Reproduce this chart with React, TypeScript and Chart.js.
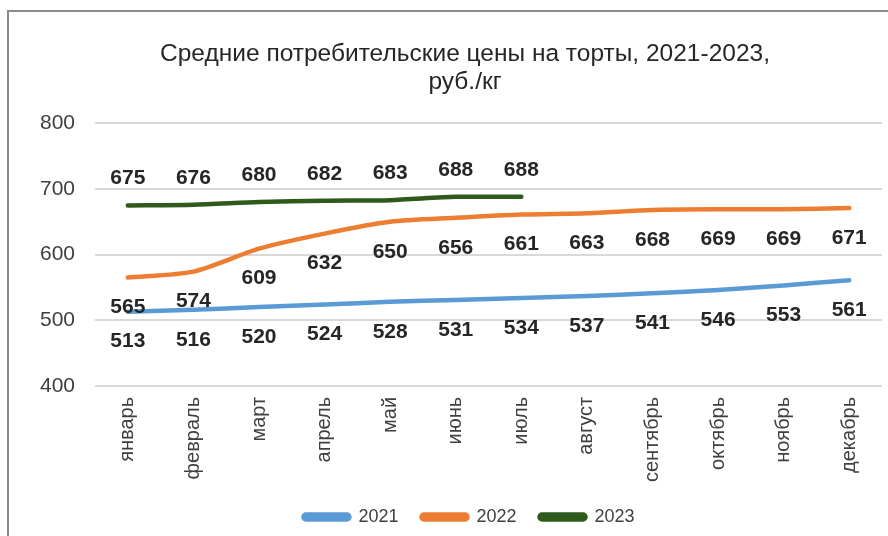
import React, { useEffect, useRef } from "react";
import { Chart, registerables } from "chart.js";

Chart.register(...registerables);

const months = ["январь", "февраль", "март", "апрель", "май", "июнь", "июль", "август", "сентябрь", "октябрь", "ноябрь", "декабрь"];
const series2021 = [513, 516, 520, 524, 528, 531, 534, 537, 541, 546, 553, 561];
const series2022 = [565, 574, 609, 632, 650, 656, 661, 663, 668, 669, 669, 671];
const series2023 = [675, 676, 680, 682, 683, 688, 688];
const titleLines = ["Средние потребительские цены на торты, 2021-2023,", "руб./кг"];

const FONT = "'Liberation Sans', Arial, sans-serif";

const labelPlugin = {
  id: "valueLabels",
  afterDatasetsDraw(chart: any) {
    const ctx = chart.ctx;
    ctx.save();
    ctx.font = `bold 21px ${FONT}`;
    ctx.fillStyle = "#262626";
    ctx.textAlign = "center";
    ctx.textBaseline = "middle";
    chart.data.datasets.forEach((ds: any, i: number) => {
      const meta = chart.getDatasetMeta(i);
      const off = ds.labelOffset as number;
      meta.data.forEach((pt: any, j: number) => {
        const v = ds.data[j];
        if (v == null) return;
        ctx.fillText(String(v), pt.x, pt.y + off);
      });
    });
    ctx.restore();
  },
};

// nudge the full-width title and legend boxes to centre them like the original
const shiftPlugin = {
  id: "shiftBoxes",
  afterLayout(chart: any) {
    if (chart.legend) {
      chart.legend.left += 18;
      chart.legend.right += 18;
    }
    if (chart.titleBlock) {
      chart.titleBlock.left += 14;
      chart.titleBlock.right += 14;
    }
  },
};

export default function App() {
  const ref = useRef<HTMLCanvasElement>(null);
  useEffect(() => {
    if (!ref.current) return;
    const chart = new Chart(ref.current, {
      type: "line",
      data: {
        labels: months,
        datasets: [
          { label: "2021", data: series2021, borderColor: "#5B9BD5", backgroundColor: "#5B9BD5", labelOffset: 30 } as any,
          { label: "2022", data: series2022, borderColor: "#ED7D31", backgroundColor: "#ED7D31", labelOffset: 30 } as any,
          { label: "2023", data: series2023, borderColor: "#2E5A1C", backgroundColor: "#2E5A1C", labelOffset: -27 } as any,
        ],
      },
      options: {
        responsive: true,
        maintainAspectRatio: false,
        animation: false,
        layout: { padding: { left: 20, right: 6, top: 0, bottom: 0 } },
        elements: {
          line: { borderWidth: 4.5, tension: 0.25, borderCapStyle: "round", borderJoinStyle: "round" },
          point: { radius: 0, hoverRadius: 0 },
        },
        plugins: {
          title: {
            display: true,
            text: titleLines,
            color: "#262626",
            font: { family: FONT, size: 24.5, weight: "normal", lineHeight: 1.15 },
            padding: { top: 40, bottom: 27 },
          },
          legend: {
            position: "bottom",
            labels: {
              boxWidth: 46,
              boxHeight: 5,
              useBorderRadius: true,
              borderRadius: 2.5,
              padding: 23,
              color: "#404040",
              font: { family: FONT, size: 18 },
            },
          },
          tooltip: { enabled: false },
        },
        scales: {
          x: {
            offset: true,
            grid: { display: false },
            border: { display: false },
            ticks: {
              minRotation: 90,
              maxRotation: 90,
              padding: 3,
              color: "#404040",
              font: { family: FONT, size: 20 },
            },
          },
          y: {
            min: 400,
            max: 800,
            ticks: { stepSize: 100, padding: 20, color: "#404040", font: { family: FONT, size: 21 } },
            grid: { color: "#d9d9d9", lineWidth: 2, drawTicks: false },
            border: { display: false },
          },
        },
      },
      plugins: [labelPlugin, shiftPlugin],
    });
    return () => chart.destroy();
  }, []);
  return (
    <div style={{ position: "absolute", left: 0, top: 0, width: 888, height: 536, background: "#fff", overflow: "hidden" }}>
      <div style={{ position: "absolute", left: 0, top: 0, width: 888, height: 536 }}>
        <canvas ref={ref} />
      </div>
      <div style={{ position: "absolute", left: 7, top: 10, width: 879, height: 524, borderLeft: "2px solid #8a8a8a", borderTop: "2px solid #8a8a8a", pointerEvents: "none" }} />
    </div>
  );
}
